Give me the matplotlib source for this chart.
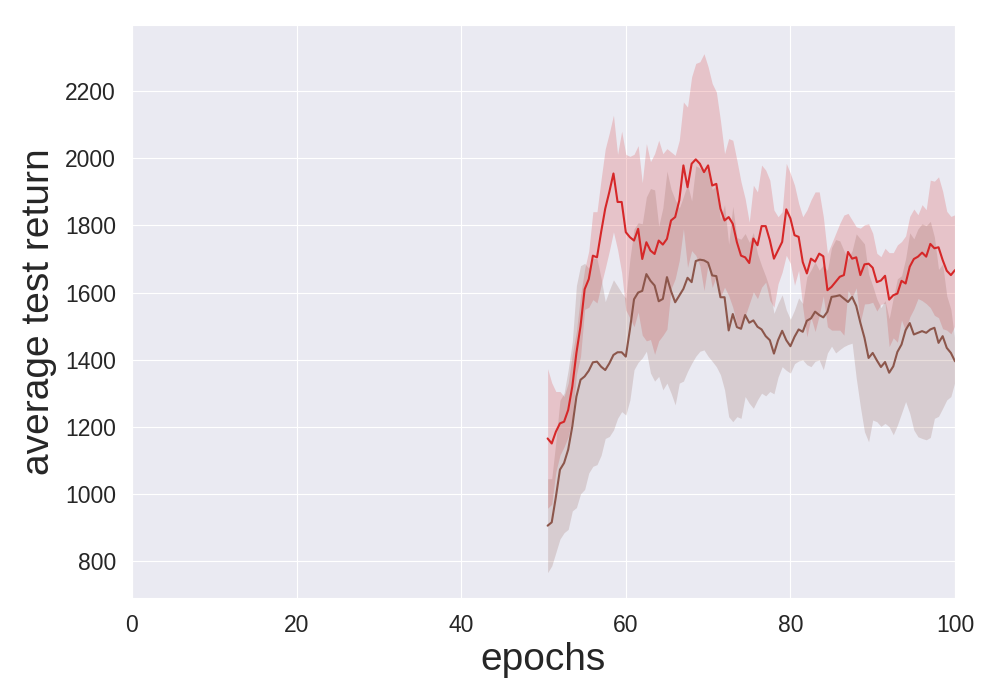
import numpy as np
import matplotlib
matplotlib.use("Agg")
import matplotlib.pyplot as plt
import seaborn as sns

# epochs where the curves are logged
epochs = np.arange(50.5, 100.25, 0.5)

# red run: mean and std of test return
red_mean = [1165, 1150, 1185, 1210, 1215, 1250, 1320, 1420, 1500, 1610,
            1640, 1710, 1705, 1780, 1850, 1900, 1955, 1870, 1870, 1780,
            1765, 1755, 1790, 1700, 1750, 1725, 1715, 1755, 1743, 1760,
            1815, 1825, 1875, 1979, 1914, 1984, 1997, 1984, 1959, 1979,
            1919, 1924, 1850, 1815, 1825, 1805, 1750, 1710, 1705, 1688,
            1761, 1741, 1798, 1798, 1756, 1701, 1726, 1751, 1848, 1821,
            1771, 1766, 1691, 1657, 1701, 1692, 1716, 1708, 1607, 1617,
            1632, 1647, 1652, 1721, 1701, 1705, 1652, 1684, 1686, 1674,
            1631, 1636, 1650, 1579, 1592, 1597, 1635, 1627, 1677, 1700,
            1707, 1719, 1707, 1745, 1732, 1735, 1697, 1665, 1652, 1667]
red_std = [208, 181, 120, 95, 75, 80, 95, 65, 90, 60,
           84, 131, 136, 158, 178, 176, 174, 142, 211, 232,
           241, 257, 248, 227, 294, 265, 299, 299, 271, 269,
           204, 184, 179, 189, 239, 259, 286, 304, 353, 294,
           304, 274, 263, 199, 234, 249, 244, 220, 175, 122,
           159, 159, 182, 167, 179, 145, 100, 90, 137, 134,
           149, 100, 135, 189, 175, 208, 184, 118, 109, 129,
           144, 159, 179, 115, 115, 91, 140, 118, 119, 103,
           86, 71, 82, 140, 127, 145, 117, 142, 150, 149,
           125, 143, 140, 190, 200, 210, 205, 177, 175, 165]

# brown run
brown_mean = [905, 915, 990, 1072, 1092, 1132, 1201, 1290, 1340, 1350,
              1367, 1392, 1394, 1379, 1369, 1389, 1414, 1422, 1422, 1409,
              1490, 1580, 1600, 1605, 1655, 1635, 1621, 1574, 1581, 1646,
              1604, 1571, 1591, 1611, 1644, 1631, 1694, 1698, 1696, 1689,
              1651, 1649, 1586, 1586, 1487, 1536, 1497, 1492, 1533, 1510,
              1517, 1498, 1490, 1470, 1458, 1418, 1458, 1486, 1458, 1440,
              1468, 1490, 1483, 1516, 1523, 1543, 1533, 1526, 1543, 1587,
              1589, 1592, 1582, 1572, 1587, 1560, 1510, 1465, 1405, 1420,
              1398, 1378, 1393, 1361, 1380, 1423, 1445, 1488, 1509, 1475,
              1480, 1485, 1480, 1490, 1495, 1450, 1470, 1435, 1420, 1395]
brown_std = [140, 130, 165, 207, 208, 238, 252, 331, 340, 337,
             305, 310, 307, 264, 204, 218, 224, 197, 177, 174,
             210, 210, 208, 200, 230, 275, 285, 224, 271, 316,
             304, 306, 261, 275, 279, 242, 284, 273, 267, 279,
             256, 270, 231, 276, 257, 321, 267, 267, 243, 240,
             262, 218, 190, 178, 153, 120, 110, 107, 90, 80,
             80, 94, 84, 131, 144, 148, 134, 156, 123, 147,
             169, 162, 143, 127, 138, 215, 250, 280, 250, 200,
             183, 177, 183, 161, 204, 218, 205, 213, 269, 285,
             310, 320, 319, 322, 270, 219, 215, 155, 130, 60]

x_ticks = [0, 20, 40, 60, 80, 100]
y_ticks = [800, 1000, 1200, 1400, 1600, 1800, 2000, 2200]

sns.set_style("darkgrid")
plt.rcParams['font.family'] = ['Liberation Sans', 'DejaVu Sans']

fig, ax = plt.subplots(figsize=(10, 7), dpi=100)
fig.subplots_adjust(left=0.132, right=0.955, top=0.964, bottom=0.146)

runs = [(red_mean, red_std, '#d62728'), (brown_mean, brown_std, '#8c564b')]
for mean, std, color in runs:
    mean = np.array(mean, dtype=float)
    std = np.array(std, dtype=float)
    ax.fill_between(epochs, mean - std, mean + std, color=color, alpha=0.2, linewidth=0)
for mean, std, color in runs:
    ax.plot(epochs, mean, color=color, linewidth=1.5)

ax.set_xlim(0, 100)
ax.set_ylim(690, 2397)
ax.set_xticks(x_ticks)
ax.set_yticks(y_ticks)
ax.tick_params(labelsize=16.5, colors='#262626', pad=8)
ax.set_xlabel('epochs', fontsize=28, color='#262626', labelpad=4)
ax.set_ylabel('average test return', fontsize=28, color='#262626', labelpad=6)

fig.savefig('out.png', dpi=100)
